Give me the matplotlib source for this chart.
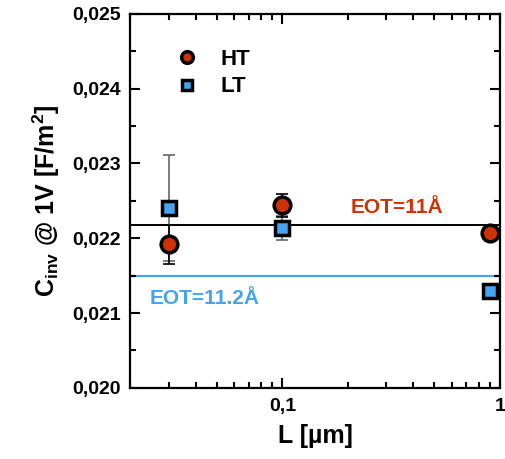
import matplotlib
matplotlib.use("Agg")
import matplotlib.pyplot as plt
from matplotlib.ticker import FuncFormatter, FixedLocator, LogLocator, MultipleLocator

plt.rcParams["font.family"] = ["Liberation Sans", "DejaVu Sans"]
plt.rcParams["font.weight"] = "bold"
plt.rcParams["mathtext.fontset"] = "custom"
plt.rcParams["mathtext.rm"] = "Liberation Sans:bold"
plt.rcParams["mathtext.default"] = "rm"

# gate length L [um]
length = [0.03, 0.1, 0.9]
ht_cap = [0.02192, 0.02244, 0.02207]
ht_err = [0.00026, 0.00015, 0.0]
lt_cap = [0.02240, 0.02214, 0.02129]
lt_err = [0.00071, 0.00016, 0.00005]
eot_ht = 0.02218
eot_lt = 0.02149

RED = "#cc3300"
BLUE = "#45a3f0"

fig = plt.figure(figsize=(5.05, 4.59), dpi=100)
ax = fig.add_axes([0.258, 0.155, 0.732, 0.815])

ax.axhline(eot_ht, color="black", linewidth=1.4, zorder=1)
ax.axhline(eot_lt, color=BLUE, linewidth=1.6, zorder=1)

ax.errorbar(length, lt_cap, yerr=lt_err, fmt="none", ecolor="#666666",
            elinewidth=1.2, capsize=4, capthick=1.2, zorder=2)
ax.errorbar(length, ht_cap, yerr=ht_err, fmt="none", ecolor="black",
            elinewidth=1.2, capsize=4, capthick=1.2, zorder=2)
ax.plot(length, ht_cap, "o", color=RED, markeredgecolor="black",
        markersize=12, markeredgewidth=2.5, label="HT", zorder=3)
ax.plot(length, lt_cap, "s", color=BLUE, markeredgecolor="black",
        markersize=10.5, markeredgewidth=2.5, label="LT", zorder=3)

ax.text(0.335, 0.02241, "EOT=11Å", color=RED, fontsize=15,
        fontweight="bold", ha="center", va="center")
ax.text(0.0245, 0.02119, "EOT=11.2Å", color=BLUE, fontsize=15,
        fontweight="bold", ha="left", va="center")

ax.set_xscale("log")
ax.set_xlim(0.02, 1.0)
ax.set_ylim(0.020, 0.025)
ax.xaxis.set_major_locator(FixedLocator([0.1, 1.0]))
ax.xaxis.set_minor_locator(LogLocator(base=10, subs=range(2, 10)))
ax.xaxis.set_major_formatter(FuncFormatter(
    lambda v, p: "0,1" if abs(v - 0.1) < 1e-9 else "1"))
ax.xaxis.set_minor_formatter(FuncFormatter(lambda v, p: ""))
ax.yaxis.set_major_locator(MultipleLocator(0.001))
ax.yaxis.set_minor_locator(MultipleLocator(0.0005))
ax.yaxis.set_major_formatter(FuncFormatter(
    lambda v, p: f"{v:.3f}".replace(".", ",")))

ax.tick_params(which="both", direction="in", top=True, right=True,
               width=1.5, labelsize=14)
ax.tick_params(which="major", length=7, pad=7)
ax.tick_params(which="minor", length=4)
for s in ax.spines.values():
    s.set_linewidth(1.6)

ax.set_xlabel("L [µm]", fontsize=18, fontweight="bold", labelpad=7)
ax.set_ylabel(r"C$_{\mathrm{inv}}$ @ 1V [F/m$^{\mathrm{2}}$]", fontsize=18,
              fontweight="bold", labelpad=7)

ax.legend(loc="upper left", bbox_to_anchor=(0.04, 0.96), frameon=False,
          fontsize=16, markerscale=0.7, handletextpad=0.5, labelspacing=0.3)

fig.savefig("out.png", dpi=100)
